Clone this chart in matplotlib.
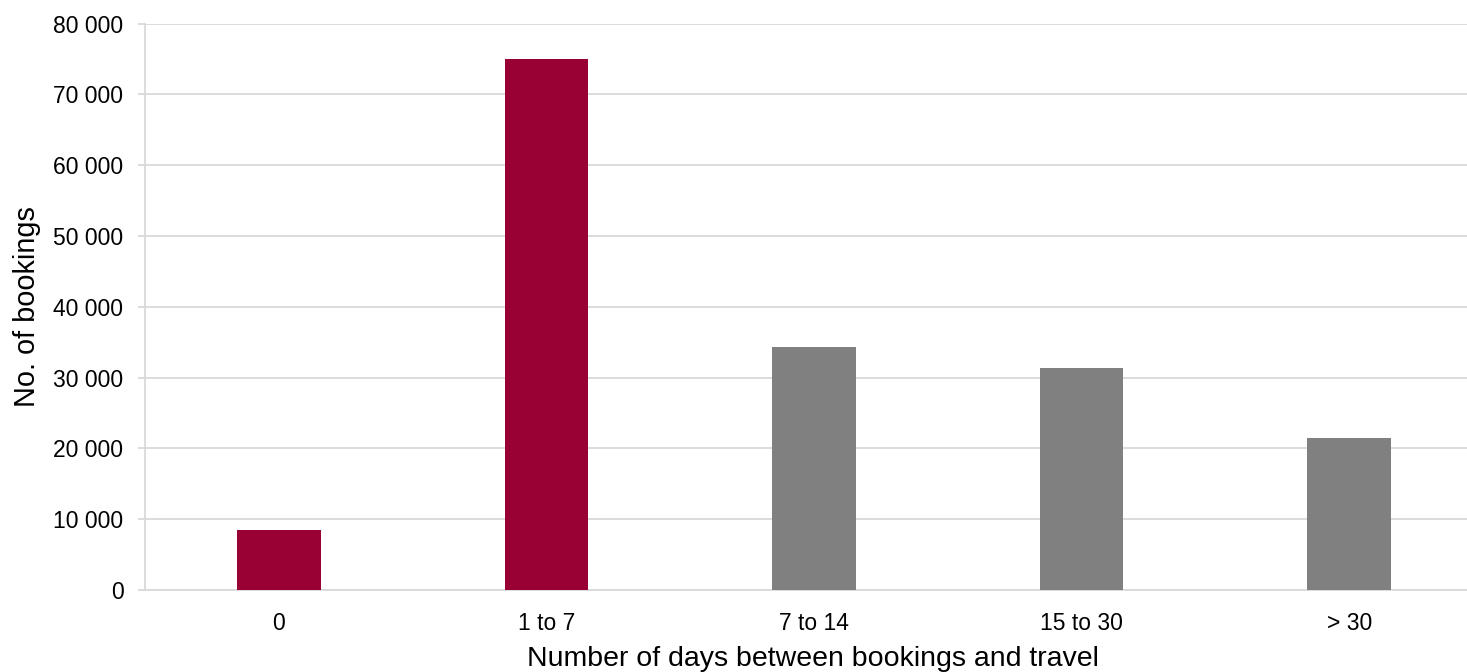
import matplotlib
matplotlib.use("Agg")
import matplotlib.pyplot as plt
from matplotlib.ticker import FuncFormatter, MultipleLocator

# Lead-time distribution of bookings
categories = ["0", "1 to 7", "7 to 14", "15 to 30", "> 30"]
bookings = [8500, 75000, 34300, 31400, 21500]
bar_colors = ["#990033", "#990033", "#808080", "#808080", "#808080"]

plt.rcParams["font.family"] = ["Liberation Sans", "DejaVu Sans"]

W, H = 1467, 672
X0, X1, Y0, Y1 = 145, 1483, 590, 23.7
fig = plt.figure(figsize=(W / 100, H / 100), dpi=100)
ax = fig.add_axes([X0 / W, (H - Y0) / H, (X1 - X0) / W, (Y0 - Y1) / H])

x = list(range(len(categories)))
ax.bar(x, bookings, width=0.313, color=bar_colors, zorder=3)

ax.set_xlim(-0.5, len(categories) - 0.5)
ax.set_ylim(0, 80000)
ax.yaxis.set_major_locator(MultipleLocator(10000))
ax.yaxis.set_major_formatter(FuncFormatter(lambda v, p: f"{int(v):,}".replace(",", " ")))
ax.set_xticks(x)
ax.set_xticklabels(categories)

grid_color = "#d9d9d9"
ax.grid(axis="y", color=grid_color, linewidth=1.3, zorder=0)
for side in ("top", "right"):
    ax.spines[side].set_visible(False)
for side in ("left", "bottom"):
    ax.spines[side].set_color(grid_color)
    ax.spines[side].set_linewidth(1.3)

ax.tick_params(axis="y", length=5, width=1.3, color=grid_color, labelsize=16.5, pad=10.5)
ax.tick_params(axis="x", length=0, labelsize=16.5, pad=15.5)

ax.set_ylabel("No. of bookings", fontsize=20.8)
ax.yaxis.set_label_coords((41 - X0) / (X1 - X0), 0.5)
ax.set_xlabel("Number of days between bookings and travel", fontsize=20.5)
ax.xaxis.set_label_coords((813 - X0) / (X1 - X0), -(646 - Y0) / (Y0 - Y1))

fig.savefig("out.png", dpi=100, facecolor="white")
